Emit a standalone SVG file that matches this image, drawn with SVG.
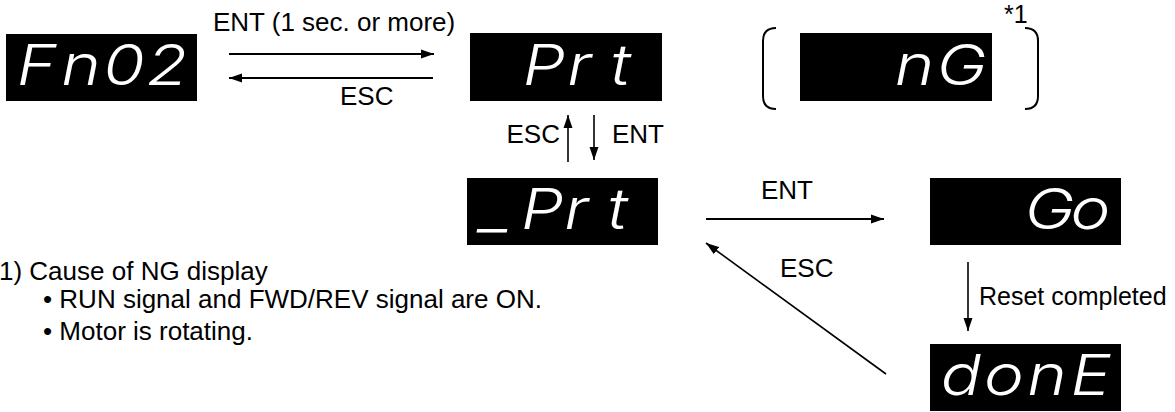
<svg xmlns="http://www.w3.org/2000/svg" width="1175" height="412" viewBox="0 0 1175 412">
<style>
.box{fill:#000}
.seg{fill:#fff;font-family:Inter,"DejaVu Sans",sans-serif;font-style:italic;font-weight:300;font-size:56px}
.lbl{fill:#000;font-family:"Liberation Sans",Arial,sans-serif;font-size:26px}
.sm{font-size:25px}
.con{stroke:#000;stroke-width:2;fill:none}
.thin{stroke-width:1.6}
.br{stroke:#000;stroke-width:2;fill:none}
</style>
<defs>
<marker id="ah" markerUnits="userSpaceOnUse" markerWidth="14" markerHeight="10" refX="13" refY="5" orient="auto">
<path d="M0,0.5 L13,5 L0,9.5 z" fill="#000"/>
</marker>
</defs>
<rect width="1175" height="412" fill="#fff"/>
<g id="node-fn02">
<rect class="box" x="6" y="34" width="191" height="67"/>
<text class="seg" transform="translate(6 0) scale(1.2 1)" x="9 46 81 117" y="85">Fn02</text>
</g>
<g id="node-prt">
<rect class="box" x="470" y="33" width="192" height="68"/>
<text class="seg" transform="translate(470 0) scale(1.2 1)" x="44 81 117" y="85">Prt</text>
</g>
<g id="node-ng">
<path class="br" d="M776,28 Q763,28 763,41 L763,96 Q763,109 776,109"/>
<rect class="box" x="800" y="33" width="192" height="68"/>
<text class="seg" transform="translate(800 0) scale(1.2 1)" x="79 114" y="85">nG</text>
<path class="br" d="M1025,28 Q1038,28 1038,41 L1038,96 Q1038,109 1025,109"/>
<text class="lbl sm" x="1004" y="23">*1</text>
</g>
<g id="node-uprt">
<rect class="box" x="467" y="178" width="191" height="67"/>
<text class="seg" transform="translate(467 0) scale(1.2 1)" x="11 45 81 117" y="229">_Prt</text>
</g>
<g id="node-go">
<rect class="box" x="930" y="178" width="191" height="67"/>
<text class="seg" transform="translate(930 0) scale(1.2 1)" x="79 117" y="229">Go</text>
</g>
<g id="node-done">
<rect class="box" x="930" y="344" width="191" height="67"/>
<text class="seg" transform="translate(930 0) scale(1.2 1)" x="9 45 81 117" y="395">donE</text>
</g>
<g id="connectors">
<line class="con" x1="229" y1="54" x2="434" y2="54" marker-end="url(#ah)"/>
<line class="con" x1="433" y1="78" x2="229" y2="78" marker-end="url(#ah)"/>
<line class="con thin" x1="568" y1="162" x2="568" y2="115" marker-end="url(#ah)"/>
<line class="con thin" x1="594" y1="115" x2="594" y2="160" marker-end="url(#ah)"/>
<line class="con" x1="706" y1="219" x2="884" y2="219" marker-end="url(#ah)"/>
<line class="con thin" x1="886" y1="374" x2="706" y2="243" marker-end="url(#ah)"/>
<line class="con thin" x1="968" y1="262" x2="968" y2="331" marker-end="url(#ah)"/>
<text class="lbl" x="213" y="31">ENT (1 sec. or more)</text>
<text class="lbl" x="340" y="105">ESC</text>
<text class="lbl" x="560" y="143" text-anchor="end">ESC</text>
<text class="lbl" x="612" y="143">ENT</text>
<text class="lbl" x="761" y="199">ENT</text>
<text class="lbl" x="780" y="277">ESC</text>
<text class="lbl sm" x="979" y="305">Reset completed</text>
</g>
<g id="notes">
<text class="lbl" x="-1" y="280">1) Cause of NG display</text>
<text class="lbl" x="43" y="308">• RUN signal and FWD/REV signal are ON.</text>
<text class="lbl" x="43" y="340">• Motor is rotating.</text>
</g>
</svg>
